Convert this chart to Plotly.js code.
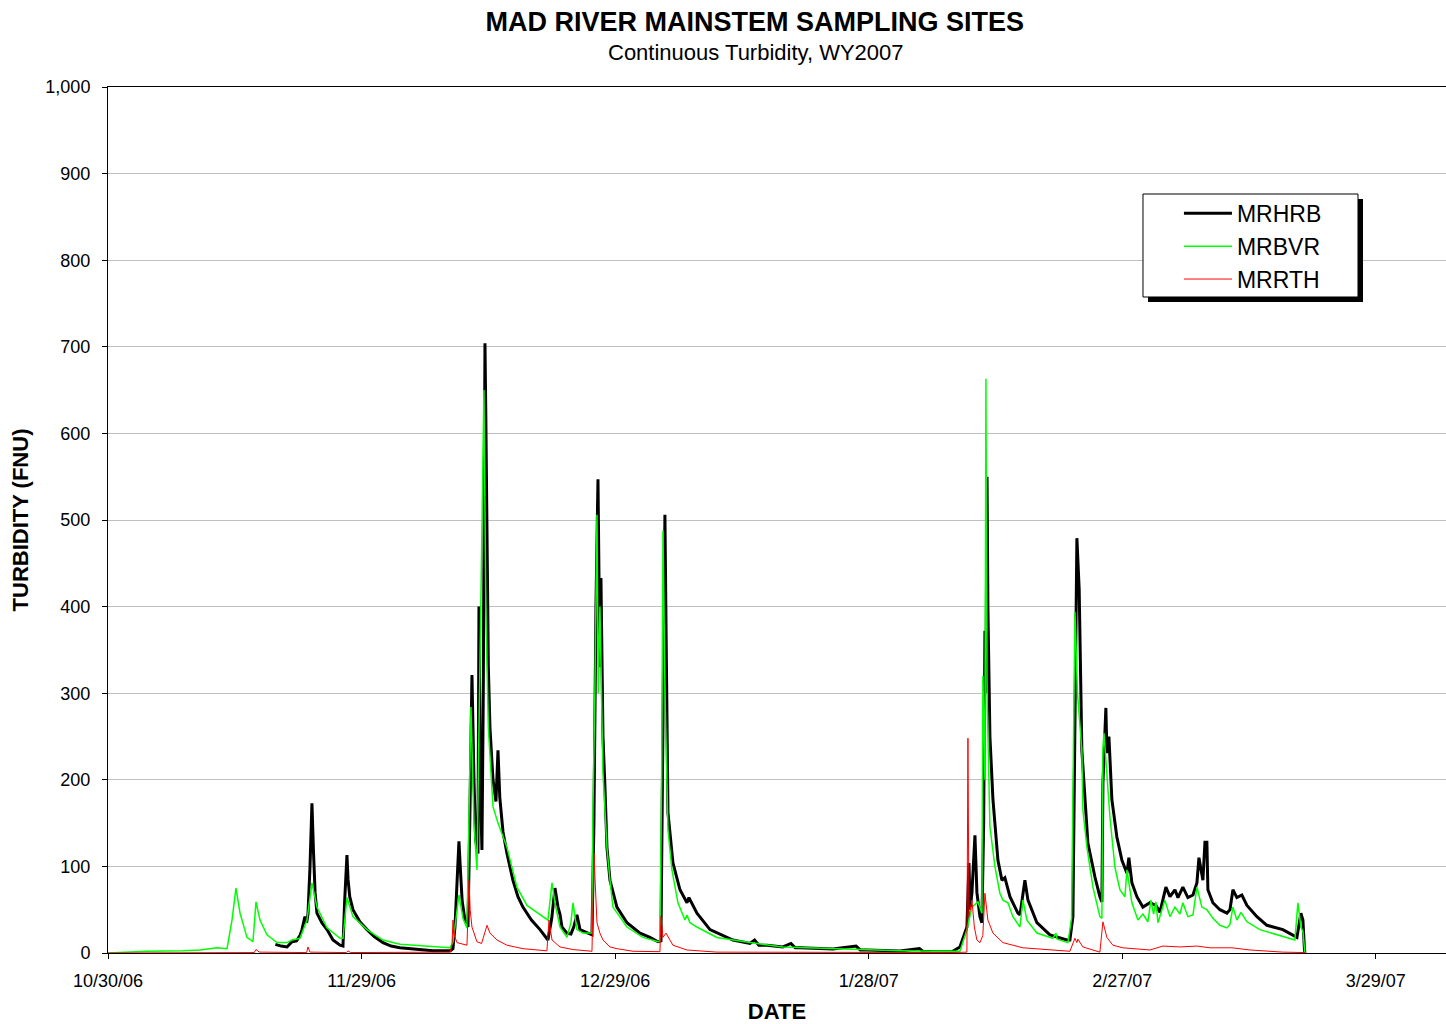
<!DOCTYPE html>
<html>
<head>
<meta charset="utf-8">
<script src="https://cdn.plot.ly/plotly-3.0.1.min.js"></script>
<style>html,body{margin:0;padding:0;background:#fff;}#chart{width:1446px;height:1024px;}</style>
</head>
<body>
<div id="chart"></div>
<script>
// Start of the record (day 0) and the visible span of the date axis
const startDay = '2006-10-30';
const axisSpanDays = 158.3;

// MRHRB: days since 10/30/06 and turbidity (FNU)
const hrbDay = [19.8,20.5,21.18,21.77,22.3,22.71,22.95,23.3,23.5,23.66,23.9,24.13,24.3,24.5,24.72,25.3,25.91,26.62,27.45,27.8,28.0,28.15,28.27,28.4,28.6,28.98,29.8,30.64,31.5,32.53,33.5,34.54,36.5,38.45,40.5,40.81,41.05,41.3,41.52,41.7,41.9,42.23,42.59,42.8,43.06,43.3,43.5,43.77,43.89,44.05,44.24,44.4,44.6,44.7,44.84,45.0,45.19,45.55,45.9,46.14,46.35,46.73,47.2,47.91,48.5,49.09,50.1,51.11,52.05,52.5,52.88,53.24,53.47,53.71,54.3,54.77,55.1,55.48,55.84,56.67,57.26,57.49,57.73,57.97,58.1,58.2,58.32,58.56,58.8,59.03,59.39,60.21,61.4,62.94,64.12,65.07,65.42,65.6,65.89,66.05,66.25,66.84,67.67,68.5,68.73,69.68,71.22,73.94,75.95,76.5,77.0,77.96,79.85,80.8,81.3,81.86,85.77,88.5,89.0,89.79,93.69,96.0,96.4,97.6,99.85,100.79,101.62,101.86,102.0,102.21,102.57,102.8,103.16,103.39,103.6,103.75,103.87,104.0,104.1,104.34,104.7,105.29,105.76,106.11,106.71,107.65,107.9,108.48,108.84,109.9,111.44,113.45,113.8,114.16,114.4,114.63,114.9,115.22,115.93,116.76,117.35,117.59,117.71,118.06,118.18,118.42,118.77,119.36,119.96,120.55,120.78,121.14,121.73,122.44,123.27,123.98,124.45,125.16,125.64,126.23,126.59,127.17,127.76,128.36,128.83,129.07,129.54,129.78,130.01,130.13,130.72,131.55,132.38,132.74,133.09,133.56,134.15,134.75,135.93,137.11,139.0,140.66,141.13,141.37,141.55,141.61];
const hrbVal = [10,8,7,13,14,20,27,42,35,45,100,173,120,70,46,35,27,15,9,8,60,95,113,85,65,50,36,27,19,12,8,6,4,2.5,2.5,5,30,90,129,95,60,38,30,150,321,200,130,115,400,200,119,300,704,620,450,330,260,200,175,234,180,140,115,84,65,53,38,27,15,40,75,53,45,30,23,22,30,44,27,23,21,150,400,547,350,330,433,250,190,122,84,53,35,23,18,13,14,200,506,350,162,104,73,58,64,46,27,15,11,15,9,9,7,11,6,6,4.6,8,3.5,3.5,2.3,5,2,1.5,1.5,7,30,104,50,69,136,70,42,35,150,372,300,550,400,250,177,107,84,87,65,46,44,84,61,35,21,15,15,42,250,479,420,234,127,88,65,59,196,283,231,250,177,134,107,92,110,81,65,53,58,55,47,76,65,73,64,76,64,67,81,110,84,128,128,73,58,50,46,50,73,64,67,55,42,32,27,18,46,38,5,0];

// MRBVR
const bvrDay = [0,4.61,8.87,10.88,12.9,14.08,14.67,15.14,15.62,16.44,17.15,17.51,17.98,18.81,19.99,21.18,21.77,22.71,23.54,24.13,24.72,25.91,27.45,27.8,28.27,28.98,30.64,32.53,34.54,38.45,40.46,40.81,41.52,42.0,42.47,42.94,43.3,43.65,43.9,44.1,44.48,44.7,45.0,45.55,46.14,47.2,48.38,49.57,51.11,52.05,52.53,52.88,53.47,54.3,54.77,55.01,55.48,56.19,57.26,57.38,57.6,57.85,58.0,58.2,58.56,59.03,59.39,59.74,61.4,63.29,65.07,65.3,65.5,65.66,65.9,66.25,66.72,67.43,68.26,68.5,68.85,69.68,72.04,75.95,79.85,85.77,93.69,97.6,100.79,101.62,102.21,102.92,103.39,103.51,103.75,103.87,104.0,104.34,104.93,105.52,105.88,106.47,107.06,107.89,108.24,108.72,109.9,111.79,112.15,112.3,113.57,114.0,114.4,114.7,115.22,115.34,115.82,116.53,117.35,117.59,117.71,117.83,118.18,118.54,119.13,119.72,120.31,120.55,121.14,121.85,122.44,123.03,123.39,123.7,123.98,124.22,125.04,125.64,126.23,126.82,127.17,127.76,128.36,128.83,129.42,130.01,130.72,131.55,132.38,132.74,133.09,133.56,134.04,134.75,136.28,138.29,140.42,140.78,141.13,141.37,141.55,141.61];
const bvrVal = [0,2,2.5,3.5,6,5,38,75,46,18,13,59,38,21,12,12,15,17,38,81,53,29,17,17,64,42,27,15,10,7,6,12,67,40,29,284,150,96,250,380,650,400,260,169,150,122,76,55,44,38,81,58,30,18,35,58,27,23,23,169,300,506,300,400,208,122,84,53,30,18,13,14,200,488,300,142,96,58,38,44,35,30,18,12,7,5,2.5,2,2,27,53,59,46,320,200,663,300,146,100,69,61,58,42,30,61,38,23,17,23,16,12,40,394,300,234,165,122,76,42,40,234,254,203,157,99,73,65,96,58,38,45,36,61,45,59,35,61,42,53,45,58,42,44,76,53,50,40,32,29,33,53,38,47,36,27,21,15,58,30,25,5,0];

// MRRTH
const rthDay = [0,17.3,17.51,17.9,23.5,23.66,23.9,28.2,28.39,28.7,40.5,40.7,40.81,41.0,41.29,42.47,42.71,42.85,43.06,43.65,44.2,44.84,45.19,46.02,47.2,49.09,51.93,52.17,52.53,53.47,55.0,57.26,57.49,57.85,58.2,58.56,59.39,60.21,62.11,65.3,65.42,65.66,66.01,66.84,68.5,72.04,100.0,101.62,101.74,101.86,102.21,102.5,102.8,103.16,103.5,103.75,104.1,104.7,105.88,108.24,113.8,114.16,114.4,114.63,114.75,115.34,117.35,117.71,118.18,118.89,120.07,123.27,124.81,126.82,128.83,130.37,132.97,135.1,139.0,141.61];
const rthVal = [0,0.5,4,1,0.5,7,1,0.5,2.5,0.5,1,10,38,20,12,9,84,50,30,13,11,32,23,15,9,5,2.5,38,15,7,4,2,115,35,23,15,7,5,2,1.5,42,18,23,9,3.5,1,0.5,1,248,42,61,30,15,12,20,69,38,23,12,6,2,12,17,12,16,7,1,36,18,9,6,3.5,8,7,8,6,6,3.5,1,0.5];

const seriesNames = ['MRHRB', 'MRBVR', 'MRRTH'];

const dayMs = 86400000;
const t0 = Date.UTC(2006, 9, 30);
function toDate(d) {
  return new Date(t0 + d * dayMs).toISOString().slice(0, 19).replace('T', ' ');
}

const traces = [
  {x: hrbDay.map(toDate), y: hrbVal, name: seriesNames[0], type: 'scatter', mode: 'lines', line: {color: '#000000', width: 3}},
  {x: bvrDay.map(toDate), y: bvrVal, name: seriesNames[1], type: 'scatter', mode: 'lines', line: {color: '#00ff00', width: 1.5}},
  {x: rthDay.map(toDate), y: rthVal, name: seriesNames[2], type: 'scatter', mode: 'lines', line: {color: '#ff0000', width: 1}}
];

const layout = {
  width: 1446, height: 1024,
  margin: {l: 108, r: 0, t: 87, b: 71, pad: 0},
  paper_bgcolor: '#ffffff', plot_bgcolor: '#ffffff',
  font: {family: '"Liberation Sans", Arial, sans-serif', color: '#000000'},
  title: {
    text: '<b>MAD RIVER MAINSTEM SAMPLING SITES</b>',
    font: {size: 27, color: '#000000'},
    xref: 'container', x: 0.522, xanchor: 'center',
    yref: 'container', y: 0.9785, yanchor: 'middle'
  },
  annotations: [
    {text: 'Continuous Turbidity, WY2007', xref: 'paper', yref: 'paper',
     x: 0.4843, xanchor: 'center', y: 1.0393, yanchor: 'middle',
     showarrow: false, font: {size: 22, color: '#000000'}}
  ],
  xaxis: {
    type: 'date',
    range: [toDate(0), toDate(axisSpanDays)],
    tick0: startDay, dtick: 30 * dayMs, tickformat: '%-m/%-d/%y',
    ticks: 'outside', ticklen: 5, tickcolor: '#000000', tickwidth: 1,
    showline: true, linecolor: '#000000', linewidth: 1, mirror: true,
    showgrid: false, zeroline: false,
    tickfont: {size: 18}, ticklabelstandoff: 6,
    title: {text: '<b>DATE</b>', font: {size: 22}, standoff: 14}
  },
  yaxis: {
    range: [0, 1000], dtick: 100, tickformat: ',d',
    ticks: 'outside', ticklen: 5, tickcolor: '#000000', tickwidth: 1,
    showline: true, linecolor: '#000000', linewidth: 1,
    showgrid: true, gridcolor: '#c0c0c0', gridwidth: 1, zeroline: false,
    tickfont: {size: 18}, ticklabelstandoff: 8,
    title: {text: '<b>TURBIDITY (FNU)</b>', font: {size: 22}, standoff: 10}
  },
  showlegend: true,
  legend: {
    x: 0.7735, xanchor: 'left', y: 0.879, yanchor: 'top',
    bgcolor: 'rgba(0,0,0,0)', borderwidth: 0,
    font: {size: 23, color: '#000000'},
    itemwidth: 48, indentation: 36
  },
  shapes: [
    {type: 'rect', xref: 'paper', yref: 'paper', x0: 0.77728, x1: 0.93797, y0: 0.75173, y1: 0.87067,
     fillcolor: '#000000', line: {width: 0}, layer: 'above'},
    {type: 'rect', xref: 'paper', yref: 'paper', x0: 0.77354, x1: 0.93423, y0: 0.75751, y1: 0.87644,
     fillcolor: '#ffffff', line: {color: '#000000', width: 1}, layer: 'above'}
  ]
};

Plotly.newPlot('chart', traces, layout, {displayModeBar: false, staticPlot: true});
</script>
</body>
</html>
